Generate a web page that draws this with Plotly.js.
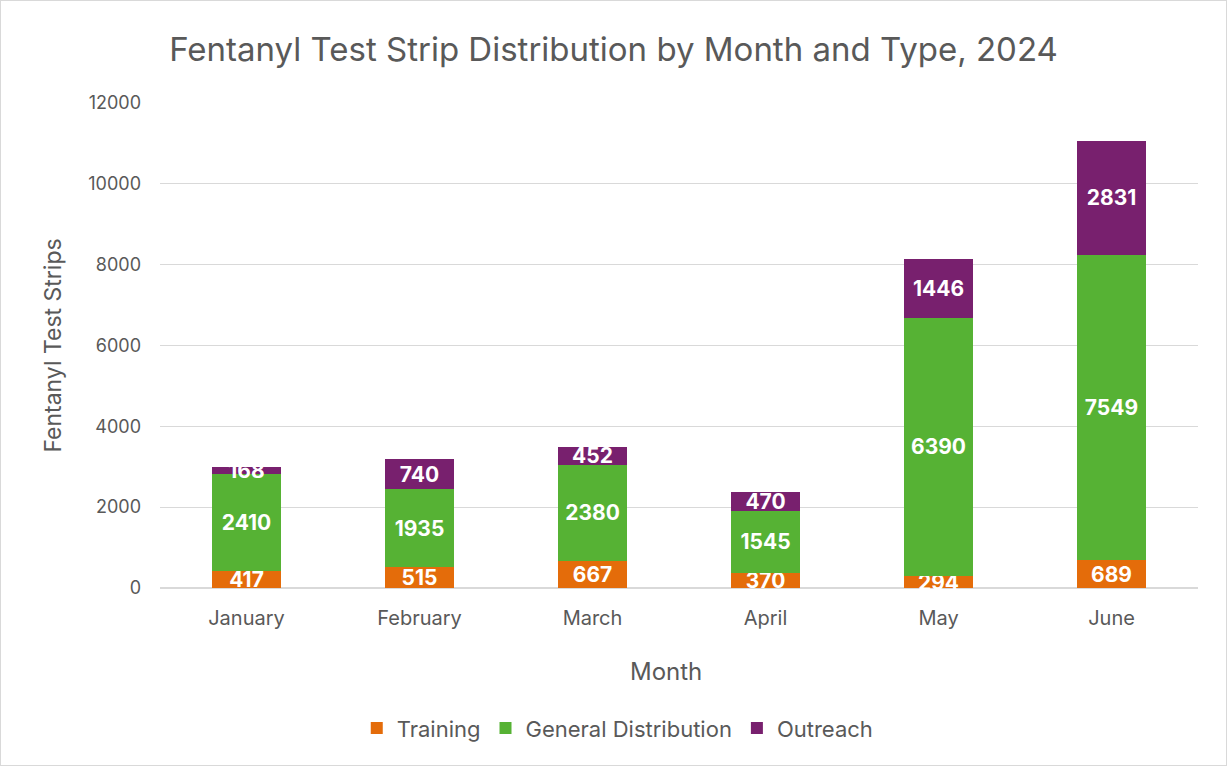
<!DOCTYPE html>
<html><head><meta charset="utf-8">
<script src="https://cdn.plot.ly/plotly-3.0.1.min.js"></script>
<style>
html,body{margin:0;padding:0;background:#fff;}
#chart{width:1227px;height:766px;box-sizing:border-box;border:1px solid #d9d9d9;}
</style></head>
<body><div id="chart"></div>
<script>
const months = ["January","February","March","April","May","June"];
const training = [417,515,667,370,294,689];
const general = [2410,1935,2380,1545,6390,7549];
const outreach = [168,740,452,470,1446,2831];
const seriesNames = ["Training","General Distribution","Outreach"];
const colors = ["#E46C0A","#56B234","#78206E"];
const FONT = "Inter, 'Noto Sans', sans-serif";

function mk(name, vals, color){
  return {
    type:"bar", name:name, x:months, y:vals,
    marker:{color:color},
    text:vals.map(String), textposition:"inside", insidetextanchor:"middle",
    constraintext:"none", cliponaxis:false,
    textfont:{family:FONT, size:21, color:"#ffffff", weight:"bold"},
    hoverinfo:"x+y+name"
  };
}
const data = [
  mk(seriesNames[0], training, colors[0]),
  mk(seriesNames[1], general, colors[1]),
  mk(seriesNames[2], outreach, colors[2])
];
const layout = {
  width:1225, height:764,
  barmode:"stack", bargap:0.6,
  paper_bgcolor:"#fff", plot_bgcolor:"#fff",
  font:{family:FONT, color:"#595959", size:18},
  margin:{l:159, r:28, t:102, b:177},
  title:{text:"Fentanyl Test Strip Distribution by Month and Type, 2024",
    font:{family:FONT, size:33, color:"#595959"}, x:0.5, xanchor:"center", y:0.937, yanchor:"middle"},
  xaxis:{tickfont:{size:20, color:"#595959"}, showline:false, ticks:"", showgrid:false, ticklabelstandoff:16},
  yaxis:{title:{text:"Fentanyl Test Strips", font:{size:23, color:"#595959"}, standoff:20},
    range:[0,12000], dtick:2000, tickformat:"d", showgrid:true, gridcolor:"#d9d9d9", gridwidth:1.3,
    zeroline:true, zerolinecolor:"#d9d9d9", zerolinewidth:1.3,
    tickfont:{size:18, color:"#595959"}, ticks:"", ticklabelstandoff:18},
  annotations:[{text:"Month", xref:"paper", yref:"paper", x:0.4875, y:-0.173, xanchor:"center", yanchor:"middle",
    showarrow:false, font:{size:24, color:"#595959", family:FONT}}],
  legend:{orientation:"h", x:0.441, xanchor:"center", y:-0.289, yanchor:"middle",
    font:{size:22, color:"#595959"}, traceorder:"normal", itemwidth:30},
  showlegend:true
};
Plotly.newPlot("chart", data, layout, {displayModeBar:false, staticPlot:true});
</script></body></html>
